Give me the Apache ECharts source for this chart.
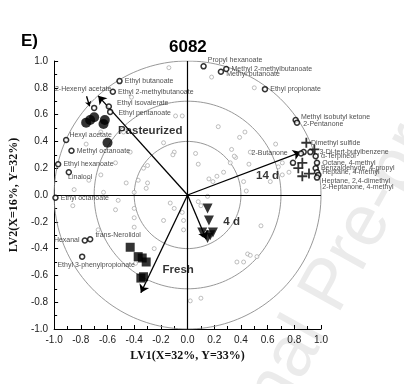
<!DOCTYPE html>
<html><head><meta charset="utf-8">
<script src="https://cdn.jsdelivr.net/npm/echarts@6/dist/echarts.min.js"></script>
<style>html,body{margin:0;padding:0;background:#fff}#c{width:404px;height:384px}</style>
</head><body><div id="c"></div>
<script>
// ---- data ----
const tickValues = [-1.0, -0.8, -0.6, -0.4, -0.2, 0.0, 0.2, 0.4, 0.6, 0.8, 1.0];
const circleRadii = [0.4, 0.7, 1.0];
const vectorNames = ['Pasteurized', '14 d', '4 d', 'Fresh'];
const vectorEnds = [[-0.67, 0.74], [0.85, 0.32], [0.14, -0.33], [-0.35, -0.73]];
const vectorLabelAt = [[-0.28, 0.48], [0.60, 0.14], [0.33, -0.20], [-0.07, -0.56]];
const pasteurizedSamples = [[-0.76, 0.54], [-0.73, 0.56], [-0.70, 0.58], [-0.63, 0.53], [-0.62, 0.56], [-0.60, 0.39]];
const day4Samples = [[0.15, -0.10], [0.16, -0.19], [0.11, -0.28], [0.19, -0.28], [0.15, -0.32], [0.17, -0.30]];
const freshSamples = [[-0.43, -0.39], [-0.37, -0.46], [-0.34, -0.47], [-0.31, -0.50], [-0.35, -0.62], [-0.33, -0.61]];
const day14Samples = [[0.89, 0.39], [0.95, 0.34], [0.86, 0.24], [0.83, 0.20], [0.91, 0.16], [0.86, 0.14]];
const labeledNames = ['Propyl hexanoate', 'Methyl 2-methylbutanoate', 'Methyl butanoate', 'Ethyl propionate',
  'Methyl isobutyl ketone', '2-Pentanone', 'Dimethyl sulfide', '1,3-Di-tert-butylbenzene', 'α-Terpineol',
  'Octane, 4-methyl', 'Benzaldehyde, 4-propyl', 'Heptane, 4-methyl', 'Heptane, 2,4-dimethyl', '2-Heptanone, 4-methyl',
  '2-Butanone', '', '2-Hexenyl acetate', 'Ethyl butanoate', 'Ethyl 2-methylbutanoate', 'Ethyl isovalerate',
  'Ethyl pentanoate', 'Hexyl acetate', 'Methyl octanoate', 'Ethyl hexanoate', 'Linalool', 'Ethyl octanoate',
  'Hexanal', 'trans-Nerolidol', 'Ethyl 3-phenylpropionate'];
const labeledX = [0.12, 0.29, 0.25, 0.58, 0.81, 0.82, 0.87, 0.92, 0.96, 0.97, 0.96, 0.97, 0.98, 0.97,
  0.85, 0.79, -0.70, -0.51, -0.56, -0.59, -0.58, -0.91, -0.87, -0.97, -0.89, -0.99, -0.77, -0.73, -0.79];
const labeledY = [0.96, 0.94, 0.92, 0.79, 0.56, 0.54, 0.32, 0.32, 0.29, 0.24, 0.20, 0.17, 0.15, 0.13,
  0.31, 0.24, 0.65, 0.85, 0.77, 0.66, 0.62, 0.41, 0.33, 0.23, 0.17, -0.02, -0.34, -0.33, -0.46];
const otherVariables = [[-0.14,0.95],[-0.04,0.59],[0.18,0.88],[0.50,0.80],[0.23,0.51],[0.43,0.47],[0.39,0.43],
  [0.66,0.38],[-0.42,0.73],[-0.09,0.59],[-0.48,0.47],[-0.65,0.47],[-0.76,0.38],[-0.18,0.39],[-0.10,0.32],
  [-0.43,0.32],[-0.54,0.24],[-0.65,0.15],[-0.74,0.11],[-0.85,0.04],[-0.33,0.20],[-0.37,0.11],[-0.31,0.05],
  [-0.63,0.02],[-0.52,-0.04],[-0.86,-0.08],[-0.54,-0.11],[-0.40,-0.10],[-0.18,-0.19],[-0.40,-0.24],[-0.67,-0.26],
  [0.06,0.31],[-0.04,-0.13],[-0.13,-0.06],[-0.10,-0.10],[-0.03,-0.19],[-0.03,-0.26],[-0.25,-0.40],[0.08,0.23],
  [0.16,0.12],[0.19,0.10],[0.22,0.14],[0.27,0.17],[0.32,0.24],[0.36,0.28],[0.46,0.23],[0.42,0.10],[0.44,0.03],
  [0.68,0.21],[0.71,0.15],[0.62,0.10],[0.08,-0.05],[0.10,-0.08],[0.55,-0.23],[0.33,0.34],[0.35,0.29],[0.47,0.32],
  [0.71,0.24],[0.76,0.17],[0.15,-0.01],[0.45,-0.44],[0.47,-0.45],[0.52,-0.46],[0.37,-0.50],[0.42,-0.50],
  [0.02,-0.79],[0.10,-0.77],[-0.39,-0.51],[-0.11,0.30],[-0.30,0.22],[-0.46,0.09],[-0.30,0.09],[-0.40,0.02],
  [-0.40,-0.17]];
const hexenylPointer = [[-0.757, 0.737], [-0.734, 0.662]];

// ---- label placement (style) ----
const labelPlace = {
  'Propyl hexanoate': ['right', [-1, -6]],
  'Methyl butanoate': ['right', [0, 2]],
  'Methyl isobutyl ketone': ['right', [0, -3]],
  '2-Pentanone': ['right', [1, 1]],
  'Dimethyl sulfide': ['right', [2, -9]],
  '1,3-Di-tert-butylbenzene': ['right', [-2, 0]],
  'Heptane, 2,4-dimethyl': ['right', [-2, 6]],
  '2-Heptanone, 4-methyl': ['right', [0, 9]],
  '2-Butanone': ['left', [-8, 0]],
  '2-Hexenyl acetate': ['inside', [-11, -19]],
  'Ethyl isovalerate': ['right', [3, -3]],
  'Ethyl pentanoate': ['right', [3, 1]],
  'Hexyl acetate': ['right', [-2, -5]],
  'Linalool': ['right', [-6, 5]],
  'trans-Nerolidol': ['right', [0, -4]],
  'Hexanal': ['left', [0, 0]],
  'Ethyl 3-phenylpropionate': ['inside', [14, 8]]
};

function circle(r) {
  const pts = [];
  for (let i = 0; i <= 360; i += 2) {
    const t = i * Math.PI / 180;
    pts.push([r * Math.cos(t), r * Math.sin(t)]);
  }
  return pts;
}

const chart = echarts.init(document.getElementById('c'), null, {renderer: 'canvas'});
const axisFont = {fontFamily: 'Arial, Liberation Sans', fontSize: 10, color: '#222'};
function axis(name, gap) {
  return {
    type: 'value', min: tickValues[0], max: tickValues[tickValues.length - 1], interval: 0.2,
    name: name, nameLocation: 'middle', nameGap: gap,
    nameTextStyle: {fontFamily: 'Liberation Serif, Times New Roman', fontWeight: 'bold', fontSize: 12, color: '#111'},
    axisLine: {show: true, onZero: false, lineStyle: {color: '#000', width: 1}},
    axisTick: {show: true, inside: true, length: 4, lineStyle: {color: '#000'}},
    minorTick: {show: true, splitNumber: 2, length: 3, lineStyle: {color: '#000'}},
    splitLine: {show: false},
    axisLabel: Object.assign({formatter: v => v.toFixed(1), margin: 6}, axisFont)
  };
}

const series = [];
circleRadii.forEach(r => series.push({
  type: 'line', data: circle(r), showSymbol: false, silent: true, z: 1,
  lineStyle: {color: '#8c8c8c', width: 0.9}
}));
// zero lines
series.push({
  type: 'line', data: [], silent: true,
  markLine: {symbol: ['none', 'none'], silent: true, label: {show: false},
    lineStyle: {color: '#000', width: 1.2, type: 'solid'},
    data: [{xAxis: 0}, {yAxis: 0}]}
});
// other variables (grey)
series.push({
  type: 'scatter', data: otherVariables, symbol: 'circle', symbolSize: 4, z: 2,
  itemStyle: {color: '#fff', borderColor: '#9a9a9a', borderWidth: 0.8}
});
// vectors
series.push({
  type: 'line', data: [], silent: true,
  markLine: {
    symbol: ['none', 'arrow'], symbolSize: 8, silent: true, label: {show: false},
    lineStyle: {color: '#000', width: 1.3, type: 'solid'},
    data: vectorEnds.map(e => [{coord: [0, 0]}, {coord: e}]).concat([[{coord: hexenylPointer[0]}, {coord: hexenylPointer[1], symbolSize: 5}]])
  }
});
series.push({
  type: 'scatter', data: vectorLabelAt.map((p, i) => ({value: p, name: vectorNames[i]})),
  symbolSize: 0, z: 6,
  label: {show: true, position: 'inside', formatter: '{b}', fontFamily: 'Arial, Liberation Sans',
    fontWeight: 'bold', fontSize: 11.5, color: '#000'}
});
// labeled variables
series.push({
  type: 'scatter', z: 5,
  data: labeledNames.map((n, i) => {
    const pl = labelPlace[n] || ['right', [0, 0]];
    return {value: [labeledX[i], labeledY[i]], name: n,
      label: {position: pl[0], offset: pl[1]}};
  }),
  symbol: 'circle', symbolSize: 5,
  itemStyle: {color: '#fff', borderColor: '#000', borderWidth: 1.5},
  label: {show: true, formatter: '{b}', fontFamily: 'Arial, Liberation Sans', fontSize: 7, color: '#222', distance: 2}
});
// samples
series.push({type: 'scatter', data: pasteurizedSamples, symbol: 'circle', symbolSize: 10, z: 4,
  itemStyle: {color: '#000'}});
series.push({type: 'scatter', data: day4Samples, symbol: 'triangle', symbolRotate: 180, symbolSize: 10, z: 4,
  itemStyle: {color: '#000'}});
series.push({type: 'scatter', data: freshSamples, symbol: 'rect', symbolSize: 9, z: 4,
  itemStyle: {color: '#000'}});
series.push({type: 'scatter', data: day14Samples, symbol: 'path://M4.1,0H5.9V4.1H10V5.9H5.9V10H4.1V5.9H0V4.1H4.1Z', symbolSize: 10, z: 4,
  itemStyle: {color: '#000'}});

chart.setOption({
  animation: false,
  backgroundColor: '#fff',
  grid: {left: 53, right: 83, top: 61, bottom: 55, containLabel: false},
  xAxis: axis('LV1(X=32%, Y=33%)', 20),
  yAxis: axis('LV2(X=16%, Y=32%)', 32),
  title: {text: '6082', left: 164, top: 34,
    textStyle: {fontFamily: 'Arial, Liberation Sans', fontWeight: 'bold', fontSize: 17, color: '#000'}},
  graphic: [
    {type: 'text', left: 21, top: 33, z: 10,
      style: {text: 'E)', font: 'bold 17px Arial, Liberation Sans', fill: '#000'}},
    {type: 'text', x: 196, y: 530, rotation: 61 * Math.PI / 180, z: -1, silent: true,
      style: {text: 'Journal Pre-proof', font: '72px Arial, Liberation Sans', fill: '#ebebeb', verticalAlign: 'middle'}}
  ],
  series: series
});
</script>
</body></html>
